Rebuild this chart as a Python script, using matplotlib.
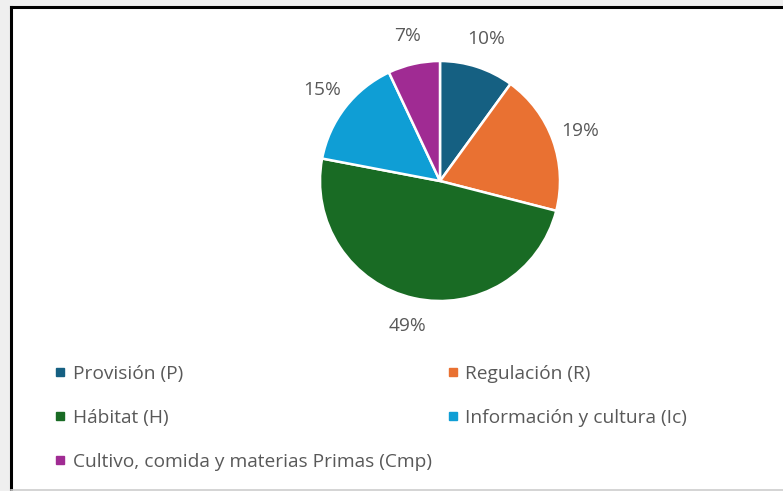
import matplotlib
matplotlib.use("Agg")
import matplotlib.pyplot as plt
from matplotlib.lines import Line2D
from matplotlib.patches import Rectangle

categories = ["Provisión (P)", "Regulación (R)", "Hábitat (H)",
              "Información y cultura (Ic)", "Cultivo, comida y materias Primas (Cmp)"]
values = [10, 19, 49, 15, 7]
colors = ["#156082", "#E97132", "#196B24", "#0F9ED5", "#A02B93"]

plt.rcParams['font.family'] = ['Open Sans', 'DejaVu Sans']
W, H = 783, 491
fig = plt.figure(figsize=(W / 100, H / 100), dpi=100)
fig.patch.set_facecolor("#efefef")

# chart area frame
fig.patches.append(Rectangle((11 / W, 2 / H), 1.0, (H - 9) / H, transform=fig.transFigure,
                             facecolor="white", edgecolor="none", zorder=-5))
fig.add_artist(Line2D([11 / W, 11 / W], [2 / H, (H - 7) / H], transform=fig.transFigure,
                      color="black", lw=2.2, zorder=-4))
fig.add_artist(Line2D([11 / W, 1.0], [(H - 7) / H, (H - 7) / H], transform=fig.transFigure,
                      color="black", lw=2.2, zorder=-4))
fig.add_artist(Line2D([11 / W, 1.0], [1.5 / H, 1.5 / H], transform=fig.transFigure,
                      color="#d0d0d0", lw=1.2, zorder=-4))

cx, cy, r = 440, 181, 120
ax = fig.add_axes([(cx - r) / W, (H - cy - r) / H, 2 * r / W, 2 * r / H])
ax.set_zorder(2)
wedges, texts, autotexts = ax.pie(
    values, colors=colors, startangle=90, counterclock=False,
    autopct=lambda p: f"{p:.0f}%", pctdistance=1.24,
    wedgeprops=dict(edgecolor="white", linewidth=1.8),
    textprops=dict(color="#595959", fontsize=13.8))
ax.set_xlim(-1, 1)
ax.set_ylim(-1, 1)
ax.set_aspect("equal")
ax.axis("off")

handles = [Line2D([], [], marker="s", linestyle="none", markersize=6.2,
                  markerfacecolor=c, markeredgecolor=c) for c in colors]
order = [0, 2, 4, 1, 3]
leg = fig.legend([handles[i] for i in order], [categories[i] for i in order],
                 loc="upper left", bbox_to_anchor=(46 / W, 1 - 357 / H), ncol=2,
                 frameon=False, fontsize=13.8, labelcolor="#595959",
                 handlelength=0.7, handletextpad=0.3, columnspacing=0.75,
                 labelspacing=1.37, borderaxespad=0)
leg.set_zorder(3)

fig.savefig("out.png", dpi=100, facecolor=fig.get_facecolor())
